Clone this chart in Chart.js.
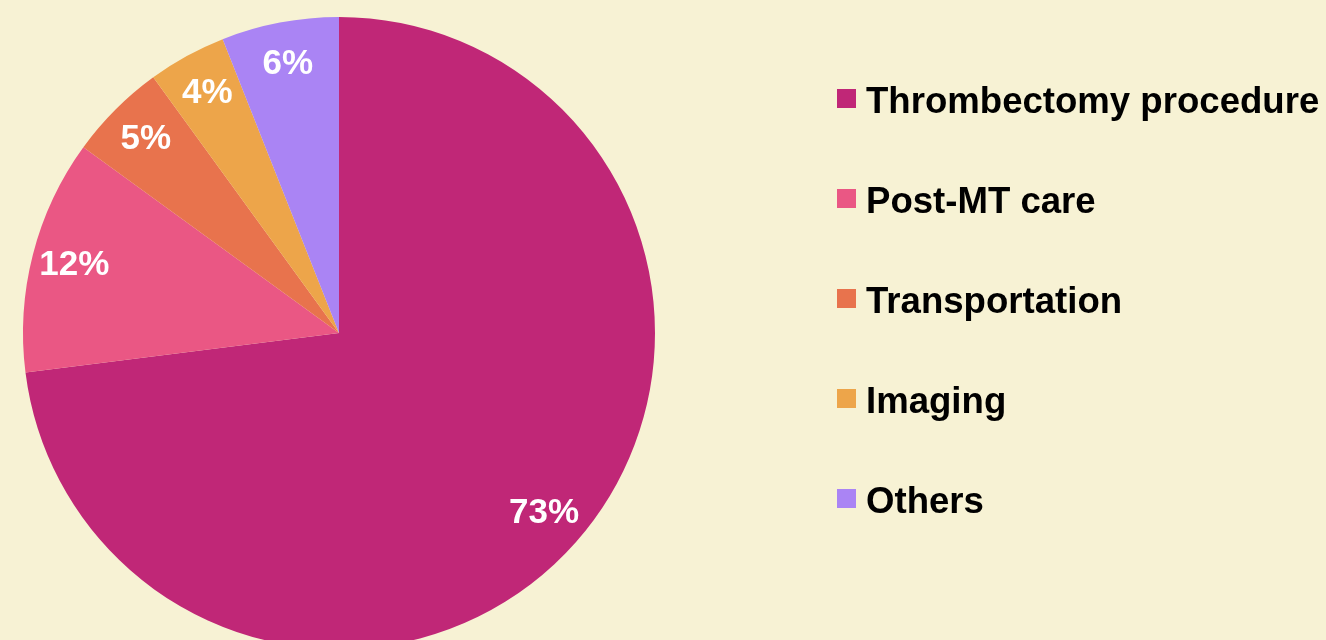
<!DOCTYPE html>
<html>
<head>
<meta charset="utf-8">
<script src="https://cdn.jsdelivr.net/npm/chart.js@4.4.1/dist/chart.umd.min.js"></script>
<style>
  html, body { margin: 0; padding: 0; background: #f7f2d4; overflow: hidden; }
  .wrap { position: relative; width: 1326px; height: 680px; }
  #costChart { position: absolute; left: 0; top: 0; }
  .legend { position: absolute; left: 837px; top: 81px; font-family: "Liberation Sans", Arial, sans-serif; font-weight: bold; font-size: 36.6px; color: #000; }
  .legend-item { display: flex; align-items: center; height: 40px; line-height: 40px; margin-bottom: 60px; white-space: nowrap; }
  .legend-box { width: 19px; height: 19px; margin-right: 10px; position: relative; top: -3px; }
</style>
</head>
<body>
<div class="wrap">
  <canvas id="costChart" width="1326" height="680"></canvas>
  <div class="legend" id="legend"></div>
</div>
<script>
// Data
const categories = ['Thrombectomy procedure', 'Post-MT care', 'Transportation', 'Imaging', 'Others'];
const shares = [73, 12, 5, 4, 6];
const sliceColors = ['#c02777', '#ea5784', '#e8734d', '#eda54a', '#aa84f4'];

// Percent labels inside slices
const sliceLabels = {
  id: 'sliceLabels',
  afterDatasetsDraw(chart) {
    const ctx = chart.ctx;
    const meta = chart.getDatasetMeta(0);
    ctx.save();
    ctx.fillStyle = '#ffffff';
    ctx.font = 'bold 35px "Liberation Sans", Arial, sans-serif';
    ctx.textAlign = 'center';
    ctx.textBaseline = 'middle';
    meta.data.forEach((arc, i) => {
      const p = arc.getProps(['x', 'y', 'startAngle', 'endAngle', 'outerRadius'], true);
      const mid = (p.startAngle + p.endAngle) / 2;
      const r = p.outerRadius * 0.865;
      ctx.fillText(shares[i] + '%', p.x + Math.cos(mid) * r, p.y + Math.sin(mid) * r);
    });
    ctx.restore();
  }
};

const ctx = document.getElementById('costChart').getContext('2d');
new Chart(ctx, {
  type: 'pie',
  data: {
    labels: categories,
    datasets: [{
      data: shares,
      backgroundColor: sliceColors,
      borderWidth: 0
    }]
  },
  options: {
    responsive: false,
    animation: false,
    layout: { padding: { left: 23, right: 671, top: 17, bottom: 31 } },
    plugins: {
      legend: { display: false },
      tooltip: { enabled: false }
    }
  },
  plugins: [sliceLabels]
});

// Legend
const legendEl = document.getElementById('legend');
categories.forEach((name, i) => {
  const item = document.createElement('div');
  item.className = 'legend-item';
  const box = document.createElement('span');
  box.className = 'legend-box';
  box.style.background = sliceColors[i];
  const text = document.createElement('span');
  text.textContent = name;
  item.appendChild(box);
  item.appendChild(text);
  legendEl.appendChild(item);
});
</script>
</body>
</html>
